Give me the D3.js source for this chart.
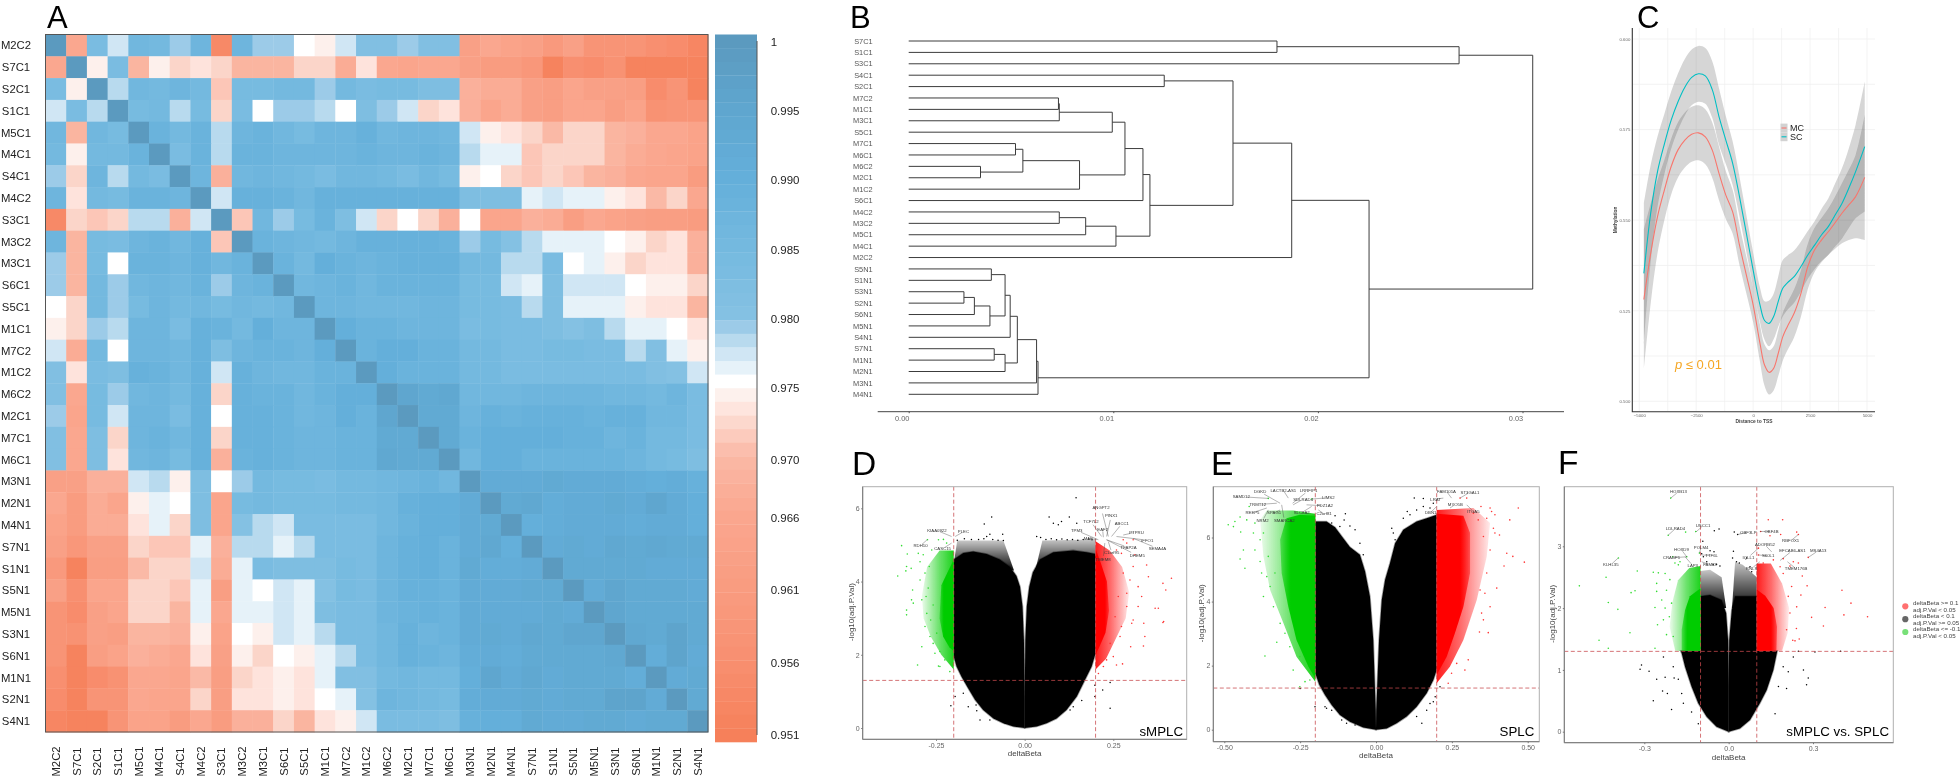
<!DOCTYPE html>
<html><head><meta charset="utf-8">
<script src="https://cdn.jsdelivr.net/npm/d3@7"></script>
<style>html,body{margin:0;padding:0;background:#fff}svg{display:block;font-family:"Liberation Sans",Arial,sans-serif;filter:blur(.35px)}</style>
</head><body><svg id="fig" width="1960" height="778"></svg>
<script>
/* ---------- A: correlation heat map ---------- */
const heatLabels=['M2C2','S7C1','S2C1','S1C1','M5C1','M4C1','S4C1','M4C2','S3C1','M3C2','M3C1','S6C1','S5C1','M1C1','M7C2','M1C2','M6C2','M2C1','M7C1','M6C1','M3N1','M2N1','M4N1','S7N1','S1N1','S5N1','M5N1','S3N1','S6N1','M1N1','S2N1','S4N1'];
/* upper triangle, correlation x 1000 */
const heatUpper=[
[966,983,977,986,985,979,987,954,987,979,979,975,974,977,981,981,979,981,981,963,966,964,963,960,963,958,958,958,956,955,953],
[974,983,969,974,972,973,972,969,969,969,972,972,967,973,966,965,966,966,963,961,961,959,952,956,955,957,952,952,952,952],
[978,986,985,987,985,971,984,984,985,985,979,985,983,984,984,982,982,968,967,967,963,962,965,963,963,962,955,958,952],
[984,985,978,984,972,983,975,979,979,978,975,982,979,977,972,973,968,965,967,963,962,965,965,962,964,957,958,958],
[988,985,988,978,987,988,986,984,987,987,989,986,987,987,986,977,974,973,972,970,972,972,969,968,966,966,964],
[983,988,978,988,988,987,987,987,987,988,987,987,988,987,978,976,976,971,972,972,972,969,967,966,965,964],
[987,968,986,987,986,985,983,986,986,985,983,986,984,974,975,972,971,972,971,969,968,966,965,965,961],
[977,989,989,988,986,989,989,989,989,989,989,989,982,982,982,976,977,976,976,974,973,970,972,966],
[971,986,979,984,988,982,977,972,975,972,968,975,965,965,968,967,962,966,964,963,962,962,961],
[988,987,986,985,987,989,989,989,989,988,979,984,980,978,976,976,976,975,974,972,973,968],
[988,985,990,988,987,988,989,989,989,985,985,978,978,983,975,976,974,972,973,973,968],
[986,987,988,986,988,988,988,988,984,984,977,976,982,977,977,977,975,974,974,972],
[987,987,986,986,986,987,987,984,984,983,978,982,976,976,976,974,973,973,969],
[990,988,988,987,987,987,983,984,983,983,982,980,982,978,976,976,975,973],
[988,990,990,988,988,985,985,983,983,984,984,983,983,978,981,976,974],
[990,988,988,988,985,985,983,983,983,983,983,983,983,981,980,977],
[995,993,994,986,986,986,987,987,987,987,986,986,985,987,983],
[993,993,987,989,988,989,989,989,988,989,989,986,986,983],
[993,988,990,990,990,990,989,989,987,988,985,985,983],
[986,990,990,988,988,988,988,988,987,985,984,982],
[992,992,992,993,992,992,992,991,990,991,989],
[993,994,991,992,992,993,992,995,992,990],
[990,991,992,992,992,991,992,992,990],
[992,993,992,994,993,994,993,993],
[993,993,993,993,992,992,992],
[992,995,993,993,993,992],
[995,993,993,993,993],
[994,993,996,993],
[991,996,992],
[992,993],
[993]];
const colorStops=[1,.995,.99,.985,.98,.979,.978,.977,.976,.975,.974,.973,.972,.971,.97,.966,.961,.956,.951];
const colorRamp=['#5b9abf','#5fa6cf','#64afda','#74b9df','#84c1e3','#9ccbe8','#b8daee','#d0e6f4','#e6f2f9','#ffffff','#fdf0ec','#fee3dc','#fbd5c9','#fcc6b7','#fab9a6','#faa78f','#f99c80','#f88f70','#f6805a'];
const colorbarTicks=[1,.995,.99,.985,.98,.975,.97,.966,.961,.956,.951];
const colorbarTickText=['1','0.995','0.990','0.985','0.980','0.975','0.970','0.966','0.961','0.956','0.951'];

/* ---------- B: dendrogram ---------- */
const dendroTree=[.0305,
 [.0269,[.0180,'S7C1','S1C1'],'S3C1'],
 [.0225,
  [.01872,
   [.01585,
    [.01249,'S4C1','S2C1'],
    [.01179,
     [.01145,
      [.01057,
       [.00995,[.00736,[.00732,'M7C2','M1C1'],'M3C1'],'S5C1'],
       [.00835,[.00558,[.00522,'M7C1','M6C1'],[.00351,'M6C2','M2C1']],'M1C2']],
      'S6C1'],
     [.01013,[.00865,[.00736,'M4C2','M3C2'],'M5C1'],'M4C1']]],
   'M2C2'],
  [.00632,[.00625,[.00531,[.00496,[.00471,[.00404,'S5N1','S1N1'],[.00397,[.00321,[.0027,'S3N1','S2N1'],'S6N1'],'M5N1']],'S4N1'],[.00471,[.00418,'S7N1','M1N1'],'M2N1']],'M3N1'],'M4N1']]];
const dendroTicks=[0,.01,.02,.03];

/* ---------- C: methylation around TSS ---------- */
const tssDistance=[-4800,-4500,-4200,-3900,-3600,-3300,-3000,-2700,-2400,-2100,-1800,-1500,-1200,-900,-600,-300,0,300,500,700,900,1100,1300,1500,1800,2100,2400,2700,3000,3300,3600,3900,4200,4500,4900];
const scMean=[.5353,.5519,.5634,.5710,.5776,.5827,.5867,.5894,.5904,.5898,.5861,.5786,.5721,.5657,.5565,.5464,.5362,.5266,.5223,.5215,.5234,.5275,.5312,.5327,.5344,.5372,.5404,.5431,.5459,.5482,.5514,.5546,.5588,.5634,.5703];
const mcMean=[.5281,.5408,.5510,.5583,.5648,.5694,.5721,.5737,.5741,.5730,.5694,.5629,.5569,.5523,.5431,.5349,.5266,.5160,.5100,.5080,.5091,.5132,.5178,.5206,.5243,.5298,.5372,.5418,.5445,.5468,.5493,.5519,.5542,.5565,.5618];
const scHalfWidth=[.0193,.0133,.0097,.0083,.0079,.0078,.0078,.0077,.0077,.0077,.0078,.0078,.0066,.0060,.0055,.0051,.0048,.0048,.0053,.0063,.0063,.0069,.0078,.0075,.0072,.0069,.0066,.0066,.0072,.0078,.0087,.0097,.0110,.0129,.0179];
const mcHalfWidth=[.0193,.0138,.0101,.0083,.0077,.0076,.0076,.0076,.0076,.0076,.0076,.0074,.0066,.0060,.0055,.0051,.0048,.0051,.0057,.0061,.0061,.0063,.0066,.0066,.0066,.0064,.0063,.0061,.0061,.0064,.0072,.0083,.0097,.0115,.0173];
const tssTicksX=[-5000,-2500,0,2500,5000];
const tssTicksY=[.5,.525,.55,.575,.6];

/* ---------- D: sMPLC ---------- */
const dBlackLobes=[
[[0,0],[-.032,.04],[-.06,.13],[-.088,.26],[-.117,.49],[-.14,.77],[-.159,1.08],[-.178,1.40],[-.192,1.68],[-.2,1.95],[-.2,4.6],[-.173,4.78],[-.145,4.82],[-.107,4.75],[-.07,4.6],[-.041,4.4],[-.023,4.15],[-.013,3.86],[-.006,3.32],[-.002,2.4],[0,.77]],
[[0,.77],[.002,2.4],[.006,3.32],[.013,3.86],[.023,4.25],[.043,4.6],[.081,4.8],[.137,4.85],[.175,4.8],[.2,4.75],[.2,2.04],[.189,1.68],[.17,1.31],[.147,.86],[.118,.49],[.09,.26],[.062,.13],[.034,.04],[0,0]]];
const dBlackHaze=[[[-.2,4.5],[-.19,5.12],[-.06,5.12],[-.03,4.3]],[[.03,4.3],[.05,5.12],[.2,5.15],[.2,4.6]]];
const dGreenHaze=[[-.2,4.85],[-.24,4.85],[-.275,4.4],[-.29,3.6],[-.285,3],[-.265,2.5],[-.235,2.0],[-.2,1.6]];
const dGreenCore=[[-.2,4.6],[-.215,4.3],[-.235,3.9],[-.24,3.0],[-.23,2.5],[-.212,2.2],[-.2,2.1]];
const dRedHaze=[[.2,5.1],[.24,4.85],[.275,4.4],[.295,3.7],[.285,3.0],[.26,2.5],[.23,1.9],[.2,1.6]];
const dRedCore=[[.2,4.9],[.215,4.5],[.232,4],[.238,3.2],[.228,2.6],[.21,2.2],[.2,2.0]];
const dGreenPts=[[-.358,4.15],[-.347,4.98],[-.331,4.75],[-.333,4.41],[-.335,4.29],[-.32,4.36],[-.316,3.77],[-.319,3.5],[-.333,3.22],[-.333,3.09],[-.314,3.41],[-.302,1.72],[-.29,2.22],[-.3,4.77],[-.295,4.54],[-.286,4.73],[-.281,4.23],[-.295,4.04],[-.274,5.14],[-.272,3.82],[-.29,3.5],[-.276,3.13],[-.281,2.77],[-.267,2.5],[-.258,2.31],[-.243,1.69],[-.239,1.68],[-.253,2.04],[-.262,4.86],[-.243,5.14],[-.229,5.15],[-.22,5.05],[-.211,1.54],[-.269,4.41],[-.278,3.59],[-.265,2.95],[-.258,3.36],[-.248,2.59],[-.239,2.09],[-.225,1.86]];
const dRedPts=[[.414,4.09],[.39,3.95],[.398,3.77],[.392,2.91],[.39,2.88],[.377,3.27],[.368,3.27],[.349,4.13],[.344,4.45],[.336,2.86],[.339,2.5],[.335,2.24],[.32,3.32],[.33,3.59],[.32,3.86],[.306,4.41],[.311,4.73],[.306,2.95],[.302,2.86],[.299,2.22],[.276,1.75],[.259,1.72],[.288,3.68],[.297,4.04],[.278,5.14],[.306,5.14],[.288,5.05],[.278,4.23],[.288,3.32],[.273,2.77],[.269,2.5],[.25,1.95],[.231,1.86],[.222,1.68],[.208,1.49],[.264,3.59],[.255,3.04],[.241,2.31],[.273,4.77],[.259,4.86]];
const dBlackPts=[[.145,6.29],[-.093,5.76],[-.114,5.57],[.069,5.76],[.081,5.59],[.104,5.64],[.126,5.76],[.147,5.59],[.095,5.55],[-.062,5.29],[-.098,5.29],[-.107,5.23],[.034,5.23],[-.19,5.13],[-.17,5.17],[-.15,5.15],[-.13,5.15],[-.115,5.17],[-.09,5.15],[-.075,5.13],[-.06,5.12],[.045,5.2],[.06,5.15],[.075,5.17],[.09,5.14],[.105,5.16],[.12,5.14],[.135,5.15],[.15,5.13],[.165,5.15],[.18,5.16],[.19,5.14],[-.208,.61],[-.196,.86],[-.159,.58],[-.137,.63],[-.135,.47],[-.126,.22],[-.098,.22],[.128,.49],[.137,.58],[.161,.75],[.22,1.04],[.241,1.24],[.241,.54],[.198,.86],[.198,1.17],[.137,.95],[-.173,.95],[-.168,1.27]];
const dGenes=[['KIAA0922',-.206,5.23,-14.7,-6],['PLEC',-.196,5.23,8.3,-4.7],['RDH10',-.274,5.15,-7,6.3],['CASC15',-.206,5.05,-9,5.7],['ANGPT2',.236,5.23,-7.3,-28.7],['PINX1',.231,5.23,4.7,-20.7],['ABCC1',.245,5.23,10.3,-12.7],['TCF7L2',.217,5.23,-10.7,-14.7],['EAF2',.222,5.21,-.7,-7.3],['TPM3',.208,5.14,-21.7,-9.3],['PTPRU',.278,5.27,13.3,-3],['IFFO1',.259,5.23,30.7,3.7],['SEMA4A',.306,5.18,24.3,10],['TFAP2A',.231,5.14,22,7.7],['DHEM5',.231,5.14,30.7,15.7],['C1orf95',.236,5.09,3.3,10.7],['TMEM8',.226,5.05,-1.7,16],['MAF',.203,5.15,-8.3,-.7]];

/* ---------- E: SPLC ---------- */
const eBlackLobes=[
[[0,0],[-.042,.07],[-.086,.25],[-.119,.46],[-.146,.77],[-.168,1.08],[-.187,1.4],[-.2,1.76],[-.2,6.5],[-.163,6.5],[-.135,6.32],[-.108,5.98],[-.086,5.7],[-.053,5.46],[-.036,4.94],[-.02,4.16],[-.009,2.8],[-.001,.61]],
[[.001,.61],[.01,2.8],[.019,4.05],[.03,4.68],[.046,5.2],[.063,5.82],[.09,6.24],[.134,6.5],[.167,6.6],[.2,6.71],[.2,1.86],[.189,1.55],[.167,1.14],[.134,.72],[.101,.41],[.068,.2],[.035,.04],[0,0]]];
const eBlackHaze=[];
const eGreenHaze=[[-.2,6.74],[-.273,6.84],[-.36,6.84],[-.382,6.55],[-.371,5.41],[-.349,4.36],[-.305,3.32],[-.262,2.28],[-.2,1.5]];
const eGreenCore=[[-.2,6.68],[-.251,6.71],[-.295,6.6],[-.316,5.93],[-.311,4.89],[-.289,3.84],[-.262,2.8],[-.223,1.97],[-.2,1.6]];
const eRedHaze=[[.2,6.86],[.321,6.92],[.376,6.45],[.365,5.41],[.332,4.05],[.288,2.8],[.244,1.97],[.2,1.45]];
const eRedCore=[[.2,6.74],[.288,6.68],[.31,6.14],[.31,4.89],[.288,3.84],[.26,3.01],[.233,2.28],[.2,1.71]];
const eGreenPts=[[-.366,2.3],[-.327,2.73],[-.432,5.04],[-.448,5.33],[-.437,5.61],[-.446,6.17],[-.47,6.34],[-.487,6.4],[-.465,6.5],[-.448,6.64],[-.418,6.97],[-.355,7.22],[-.399,5.61],[-.382,5.25],[-.371,4.16],[-.377,4.89],[-.349,4.47],[-.36,4.78],[-.426,6.55],[-.399,6.45],[-.404,6.14],[-.382,5.93],[-.371,6.14],[-.355,5.41],[-.333,4.89],[-.338,3.84],[-.316,3.32],[-.3,3.01],[-.273,1.86],[-.251,1.34],[-.234,1.5],[-.218,1.55],[-.251,2.28],[-.284,2.59],[-.212,7.2]];
const eRedPts=[[.469,6.92],[.441,6.55],[.346,6.97],[.376,6.92],[.381,6.81],[.392,6.71],[.392,6.14],[.407,6.08],[.387,6.29],[.431,5.51],[.451,5.41],[.489,5.23],[.422,5.11],[.398,4.42],[.37,3.03],[.341,3.05],[.354,3.43],[.376,3.84],[.359,4.26],[.348,3.64],[.299,7.23],[.277,7.23],[.376,5.61],[.365,4.89],[.343,4.36],[.304,2.18],[.293,1.86],[.238,1.45],[.266,2.07],[.249,1.76],[.354,6.03],[.337,6.55],[.321,6.76],[.365,6.6]];
const eBlackPts=[[.126,7.23],[.156,7.22],[.103,6.81],[.134,6.86],[.156,6.97],[.178,6.92],[.189,7.07],[.112,6.71],[.09,6.6],[.052,6.29],[.057,6.14],[.063,5.93],[-.101,6.74],[-.105,6.55],[-.135,6.68],[-.146,6.45],[-.119,6.34],[-.069,6.24],[-.086,6.36],[-.053,5.82],[-.042,5.46],[-.25,1.29],[-.201,.72],[-.168,.72],[-.163,.67],[-.146,.61],[-.113,.3],[-.097,.2],[-.069,.15],[.09,.77],[.167,.61],[.189,.87],[.134,.41],[.151,.2],[.195,1.03],[.211,1.34],[.178,.82]];
const eGenes=[['SAMD12',-.355,7.22,-27,-1.7],['DGKD',-.316,7.07,-20,-11.3],['LACTB2-AS1',-.289,7.23,-5,-7.7],['LRRFIP1',-.275,7.07,16,-12.7],['SDLRAD4',-.273,7.02,10,-5.7],['LIMS2',-.212,7.2,16.7,-1.3],['TRMT12',-.327,7.07,-19,1.3],['PDZ1A2',-.229,7.02,18.3,1],['REEP5',-.36,6.92,-14.3,4.7],['SPAG1',-.316,6.86,-6,3],['SLC8A2',-.212,6.97,-10,6.3],['NRM2',-.355,6.86,-5.7,10.7],['SMARCA2',-.311,7.02,2.7,16],['C2orf81',-.19,6.86,5.7,4],['FAM101A',.249,7.23,-5,-6.7],['ST3GAL1',.277,7.23,10,-6],['LRAT',.222,7.23,-7.7,1],['MYO5B',.244,6.92,5.3,-3.7],['ITGA5',.299,7.02,6.7,6.7],['DBN1',.2,6.97,-6,6]];

/* ---------- F: sMPLC vs. SPLC ---------- */
const fBlackLobes=[
[[0,0],[-.043,.08],[-.078,.24],[-.108,.46],[-.132,.73],[-.155,1.05],[-.167,1.27],[-.171,1.31],[-.1,1.31],[-.1,2.19],[-.066,2.21],[-.025,2.13],[-.009,1.92],[-.002,1.48],[0,.73]],
[[0,.73],[.002,1.48],[.011,1.97],[.023,2.19],[.052,2.19],[.1,2.19],[.1,1.31],[.173,1.31],[.159,1.0],[.135,.67],[.111,.46],[.076,.19],[.04,.05],[0,0]]];
const fBlackHaze=[[[-.1,2.0],[-.1,2.6],[-.066,2.62],[-.025,2.5],[-.009,2.0]],[[.012,2.0],[.023,2.75],[.05,2.7],[.1,2.5],[.1,2.0]]];
const fGreenHaze=[[-.1,2.68],[-.14,2.65],[-.18,2.45],[-.2,2.1],[-.21,1.7],[-.19,1.31],[-.1,1.31]];
const fGreenCore=[[-.1,1.31],[-.1,2.32],[-.138,2.19],[-.155,1.97],[-.167,1.65],[-.167,1.31]];
const fRedHaze=[[.1,2.72],[.15,2.72],[.19,2.4],[.215,2.0],[.21,1.6],[.19,1.31],[.1,1.31]];
const fRedCore=[[.1,2.3],[.13,2.2],[.16,2.0],[.172,1.7],[.17,1.31],[.1,1.31]];
const fGreenPts=[[-.531,2.36],[-.461,1.48],[-.428,1.35],[-.436,2.5],[-.428,2.09],[-.394,1.98],[-.392,2.81],[-.351,1.6],[-.347,2.25],[-.333,2.28],[-.325,2.6],[-.268,2.58],[-.25,2.57],[-.262,1.35],[-.262,2.01],[-.256,2.27],[-.253,1.73],[-.256,2.4],[-.238,2.13],[-.232,1.81],[-.221,1.57],[-.215,3.18],[-.206,3.78],[-.199,2.83],[-.153,3.23],[-.191,2.73],[-.179,2.7],[-.226,2.56],[-.209,2.46],[-.221,2.29],[-.203,2.08],[-.211,1.86],[-.197,1.54],[-.226,2.0],[-.173,2.75],[-.149,2.83],[-.104,2.89],[-.117,3.24]];
const fRedPts=[[.141,3.43],[.192,3.43],[.114,3.24],[.185,3.19],[.147,3.17],[.242,3.23],[.248,3.19],[.283,2.82],[.194,2.8],[.23,2.75],[.248,2.73],[.218,2.68],[.262,2.52],[.279,2.36],[.257,2.21],[.403,2.29],[.435,2.08],[.343,2.01],[.41,1.89],[.494,1.86],[.295,1.85],[.337,1.71],[.241,1.67],[.251,1.5],[.228,1.48],[.236,1.47],[.242,2.02],[.224,2.35],[.212,2.19],[.194,2.56],[.183,2.67],[.218,1.92],[.206,1.65],[.159,2.78],[.123,2.73],[.106,2.86],[.106,2.97]];
const fBlackPts=[[-.034,3.28],[-.051,3.25],[.02,3.23],[.032,3.19],[.017,2.92],[-.092,3.08],[-.066,2.93],[-.052,2.91],[-.096,2.88],[-.09,2.83],[-.078,2.75],[-.055,2.7],[-.043,2.71],[-.031,2.68],[.028,2.75],[.038,2.73],[.064,2.81],[.076,2.67],[.082,2.59],[.014,2.81],[-.268,.5],[-.235,.66],[-.218,.62],[-.203,.36],[-.31,1.08],[-.315,1.01],[-.283,.98],[-.256,.85],[-.226,.88],[-.194,.87],[-.179,.85],[-.232,1.21],[-.197,1.05],[-.167,.62],[-.161,.46],[-.132,.32],[-.108,.13],[.206,.7],[.266,1.0],[.283,.87],[.277,.76],[.212,.97],[.165,.29],[.177,.73],[.194,1.05],[.248,1.3],[.307,1.29],[.398,1.3],[.23,1.21]];
const fGenes=[['HOXB13',-.206,3.78,7.7,-6.3],['LDLRAD4',-.215,3.18,7.3,-6.7],['USCC1',-.117,3.23,7.3,-6.3],['OBF3LP',.031,3.19,11,-2.3],['OBF4B',.111,3.24,11.7,0],['RBFOX1',.248,3.19,-7.7,6.3],['HOXD9',-.149,2.83,-5.3,-7],['POLM4',-.104,2.89,1.7,-5.7],['ADORB52',.153,2.91,-6.7,-7],['EFCAB6-AS1',.183,2.77,12.3,-10],['MS4A13',.283,2.82,10,-6.7],['TTF6L',-.096,2.86,10,.7],['CRABP1',-.149,2.83,-15.3,1],['IQLL1',.106,2.97,-10,9],['S60L1',.106,2.86,9.7,1],['KLHL35',-.393,2.81,-7.3,6.7],['LAP3',-.155,2.83,7.7,8.7],['TMEM176B',.209,2.75,8.7,7],['RNLS',.111,2.75,-8.3,6.7],['FAM83',-.096,2.75,8.3,3]];
const legendColors=['#ff7070','#666666','#78e078'];
const legendLines=[['deltaBeta >= 0.1','adj.P.Val < 0.05'],['deltaBeta < 0.1','adj.P.Val >= 0.05'],['deltaBeta <= -0.1','adj.P.Val < 0.05']];

/* ---------- drawing ---------- */
const svg=d3.select('#fig');
const defs=svg.append('defs');

/* fading fill for the regions where the points thin out */
function fade(id,c,x1,y1,x2,y2,stops){
  const g=defs.append('linearGradient').attr('id',id).attr('gradientUnits','userSpaceOnUse')
    .attr('x1',x1).attr('y1',y1).attr('x2',x2).attr('y2',y2);
  stops.forEach(([o,a])=>g.append('stop').attr('offset',o).attr('stop-color',c).attr('stop-opacity',a));
  return `url(#${id})`;
}

/* panel letters */
[['A',47,28.1],['B',850,28.1],['C',1637,28.1],['D',852,475],['E',1211,475],['F',1558,474]].forEach(([t,x,y])=>
  svg.append('text').attr('x',x).attr('y',y).attr('font-size',y<100?31:33.5).attr('fill','#000').text(t));

/* A */
(function(){
  const n=heatLabels.length;
  const x=d3.scaleBand().domain(d3.range(n)).range([45.5,708]);
  const y=d3.scaleBand().domain(d3.range(n)).range([34.5,732]);
  const ramp=d3.scaleLinear().domain(colorStops).range(colorRamp).clamp(true);
  const cells=[];
  for(let i=0;i<n;i++){ cells.push({r:i,c:i,v:1000});
    heatUpper[i]&&heatUpper[i].forEach((v,k)=>{const j=i+1+k;cells.push({r:i,c:j,v},{r:j,c:i,v});}); }
  const g=svg.append('g');
  g.selectAll('rect').data(cells).join('rect')
    .attr('x',d=>x(d.c)).attr('y',d=>y(d.r)).attr('width',x.bandwidth()+.4).attr('height',y.bandwidth()+.4)
    .attr('fill',d=>ramp(d.v/1000));
  g.append('rect').attr('x',45.5).attr('y',34.5).attr('width',662.5).attr('height',697.5).attr('fill','none').attr('stroke','#555').attr('stroke-width',1);
  svg.append('g').selectAll('text').data(heatLabels).join('text')
    .attr('x',16).attr('y',(d,i)=>y(i)+y.bandwidth()/2+4).attr('text-anchor','middle').attr('font-size',11.3).attr('fill','#222').text(d=>d);
  svg.append('g').selectAll('text').data(heatLabels).join('text')
    .attr('transform',(d,i)=>`translate(${x(i)+x.bandwidth()/2+4},761.5) rotate(-90)`).attr('text-anchor','middle').attr('font-size',11.3).attr('fill','#222').text(d=>d);
  /* colour bar */
  const bandV=d3.range(52).map(i=>i<=25?1-.001*i:.975-(.024/26)*(i-25));
  const by=d3.scaleBand().domain(d3.range(52)).range([34.5,742]);
  svg.append('g').selectAll('rect').data(bandV).join('rect')
    .attr('x',715).attr('y',(d,i)=>by(i)).attr('width',42).attr('height',by.bandwidth()+.3).attr('fill',d=>ramp(d));
  svg.append('line').attr('x1',757).attr('x2',757).attr('y1',41).attr('y2',735).attr('stroke','#555');
  defs.append('clipPath').attr('id','cbclip').append('rect').attr('x',760).attr('y',20).attr('width',39).attr('height',740);
  const ty=d3.scaleLinear().domain([.951,.975,1]).range([735,388,42]);
  svg.append('g').attr('clip-path','url(#cbclip)').selectAll('text').data(colorbarTicks).join('text')
    .attr('x',770.7).attr('y',d=>ty(d)+4).attr('font-size',11.5).attr('fill','#222').text((d,i)=>colorbarTickText[i]);
})();

/* B */
(function(){
  const root=d3.hierarchy(dendroTree,d=>Array.isArray(d)?d.slice(1):null);
  const leaves=root.leaves();
  const x=d3.scaleLinear().domain([0,.03]).range([908.7,1522.5]);
  const y=d3.scalePoint().domain(leaves.map(d=>d.data)).range([41,394.3]);
  root.eachAfter(n=>{
    if(n.children){n.h=n.data[0];n.py=(n.children[0].py+n.children[1].py)/2;}
    else{n.h=0;n.py=y(n.data);}
  });
  const p=d3.path();
  root.each(n=>{ if(n.children){
    const [a,b]=n.children;
    p.moveTo(x(a.h),a.py);p.lineTo(x(n.h),a.py);p.lineTo(x(n.h),b.py);p.lineTo(x(b.h),b.py);
  }});
  svg.append('path').attr('d',p.toString()).attr('fill','none').attr('stroke','#3c3c3c').attr('stroke-width',1);
  svg.append('g').selectAll('text').data(leaves).join('text')
    .attr('x',872.7).attr('y',d=>d.py+2.6).attr('text-anchor','end').attr('font-size',7.4).attr('fill','#555').text(d=>d.data);
  const ax=svg.append('g').attr('transform','translate(0,411.7)').call(d3.axisBottom(x).tickValues(dendroTicks).tickFormat(d3.format('.2f')).tickSize(1.5));
  ax.select('.domain').remove();
  ax.selectAll('line').attr('stroke','#555');
  ax.selectAll('text').attr('x',-7).attr('y',4.5).attr('font-size',7.4).attr('font-family','inherit').attr('fill','#666');
  svg.append('line').attr('x1',877.7).attr('x2',1564).attr('y1',411.7).attr('y2',411.7).attr('stroke','#444');
})();

/* C */
(function(){
  const x=d3.scaleLinear().domain([-5000,5000]).range([1639.3,1867]);
  const y=d3.scaleLinear().domain([.5,.6]).range([401.3,39]);
  const gg=svg.append('g').attr('stroke','#f0f0f0').attr('stroke-width',.8);
  d3.range(-5000,5001,1250).forEach(v=>gg.append('line').attr('x1',x(v)).attr('x2',x(v)).attr('y1',28).attr('y2',411));
  d3.range(.5,.6001,.0125).forEach(v=>gg.append('line').attr('x1',1633).attr('x2',1875).attr('y1',y(v)).attr('y2',y(v)));
  const idx=d3.range(tssDistance.length);
  const crv=d3.curveCatmullRom.alpha(.5);
  const band=(m,h)=>d3.area().x(i=>x(tssDistance[i])).y0(i=>y(m[i]-h[i])).y1(i=>y(m[i]+h[i])).curve(crv)(idx);
  const line=m=>d3.line().x(i=>x(tssDistance[i])).y(i=>y(m[i])).curve(crv)(idx);
  svg.append('path').attr('d',band(mcMean,mcHalfWidth)).attr('fill','#333').attr('fill-opacity',.2);
  svg.append('path').attr('d',band(scMean,scHalfWidth)).attr('fill','#333').attr('fill-opacity',.2);
  svg.append('path').attr('d',line(mcMean)).attr('fill','none').attr('stroke','#F8766D').attr('stroke-width',1.1);
  svg.append('path').attr('d',line(scMean)).attr('fill','none').attr('stroke','#00BFC4').attr('stroke-width',1.1);
  const ax=svg.append('g').attr('transform','translate(0,411.7)').call(d3.axisBottom(x).tickValues(tssTicksX).tickFormat(d=>d<0?'\u2212'+(-d):d).tickSize(0));
  ax.select('.domain').remove();
  ax.selectAll('text').attr('y',2.5).attr('font-size',4.3).attr('font-family','inherit').attr('fill','#666');
  const ay=svg.append('g').attr('transform','translate(1632.3,0)').call(d3.axisLeft(y).tickValues(tssTicksY).tickFormat(d3.format('.3f')).tickSize(0));
  ay.select('.domain').remove();
  ay.selectAll('text').attr('x',-2).attr('font-size',4.3).attr('font-family','inherit').attr('fill','#666');
  svg.append('path').attr('d','M1632.3,28V411.7H1875').attr('fill','none').attr('stroke','#333').attr('stroke-width',1.1);
  svg.append('text').attr('x',1754).attr('y',423).attr('text-anchor','middle').attr('font-size',4.9).attr('font-weight','bold').attr('fill','#444').text('Distance to TSS');
  svg.append('text').attr('transform','translate(1616.8,220) rotate(-90)').attr('text-anchor','middle').attr('font-size',4.8).attr('font-weight','bold').attr('fill','#444').text('Methylation');
  [['MC','#F8766D',128],['SC','#00BFC4',136.8]].forEach(([t,c,cy])=>{
    svg.append('rect').attr('x',1780.5).attr('y',cy-4.4).attr('width',7).attr('height',8.8).attr('fill','#d2d2d2');
    svg.append('line').attr('x1',1781.5).attr('x2',1786.5).attr('y1',cy).attr('y2',cy).attr('stroke',c).attr('stroke-width',1.1);
    svg.append('text').attr('x',1790).attr('y',cy+3.2).attr('font-size',9).attr('fill','#222').text(t);
  });
  const pt=svg.append('text').attr('x',1675).attr('y',369).attr('font-size',13).attr('fill','#f5a623');
  pt.append('tspan').attr('font-style','italic').text('p');
  pt.append('tspan').text(' \u2264 0.01');
})();

/* D, E, F volcanoes */
function volcano(o){
  const x=d3.scaleLinear().domain(o.xd).range(o.xr);
  const y=d3.scaleLinear().domain(o.yd).range(o.yr);
  const [L,R,T,B]=o.frame;
  const cid='clip'+o.tag;
  defs.append('clipPath').attr('id',cid).append('rect').attr('x',L).attr('y',T).attr('width',R-L).attr('height',B-T);
  const g=svg.append('g').attr('clip-path',`url(#${cid})`);
  const poly=d3.line().x(d=>x(d[0])).y(d=>y(d[1])).curve(d3.curveLinearClosed);
  const stops=[[0,.95],[.45,.62],[.8,.28],[1,.08]];
  const hazeFill=(pts,i)=>{
    const ys=pts.map(p=>p[1]);
    return fade(`${o.tag}k${i}`,'#000',0,y(d3.min(ys)),0,y(d3.max(ys)),[[0,.95],[.5,.6],[1,.22]]);
  };
  g.selectAll('path.h').data(o.blackHaze).join('path').attr('class','h').attr('d',poly).attr('fill',hazeFill);
  g.selectAll('path.b').data(o.black).join('path').attr('class','b').attr('d',poly).attr('fill','#000').attr('stroke','#000').attr('stroke-opacity',.35).attr('stroke-width',1.6);
  const dots=(pts,c,r)=>g.append('g').selectAll('circle').data(pts).join('circle').attr('cx',d=>x(d[0])).attr('cy',d=>y(d[1])).attr('r',r).attr('fill',c);
  dots(o.blackPts,'#000',.75);
  const gEdge=x(o.vlines[0]), rEdge=x(o.vlines[1]);
  const gOut=x(d3.min(o.greenHaze,d=>d[0])), rOut=x(d3.max(o.redHaze,d=>d[0]));
  g.append('path').attr('d',poly(o.greenHaze)).attr('fill',fade(o.tag+'g','#10d010',gEdge,0,gOut,0,stops));
  g.append('path').attr('d',poly(o.greenCore)).attr('fill',fade(o.tag+'gc','#00cc00',gEdge,0,x(d3.min(o.greenCore,d=>d[0])),0,[[0,1],[.7,1],[1,.45]]));
  g.append('path').attr('d',poly(o.redHaze)).attr('fill',fade(o.tag+'r','#ff1010',rEdge,0,rOut,0,stops));
  g.append('path').attr('d',poly(o.redCore)).attr('fill',fade(o.tag+'rc','#ff0000',rEdge,0,x(d3.max(o.redCore,d=>d[0])),0,[[0,1],[.7,1],[1,.45]]));
  dots(o.greenPts,'#33dd33',.8);
  dots(o.redPts,'#ff3333',.8);
  const dash=g.append('g').attr('stroke','#c8484c').attr('stroke-width',.9).attr('stroke-dasharray','4,2.5').attr('stroke-opacity',.85);
  o.vlines.forEach(v=>dash.append('line').attr('x1',x(v)).attr('x2',x(v)).attr('y1',T).attr('y2',B));
  dash.append('line').attr('x1',L).attr('x2',R).attr('y1',y(1.3)).attr('y2',y(1.3));
  /* gene labels */
  const lg=svg.append('g');
  lg.selectAll('line').data(o.genes).join('line')
    .attr('x1',d=>x(d[1])).attr('y1',d=>y(d[2])).attr('x2',d=>x(d[1])+d[3]*.8).attr('y2',d=>y(d[2])+d[4]*.8)
    .attr('stroke','#444').attr('stroke-width',.4);
  lg.selectAll('text').data(o.genes).join('text')
    .attr('x',d=>x(d[1])+d[3]).attr('y',d=>y(d[2])+d[4]+1.5).attr('text-anchor','middle').attr('font-size',4.3).attr('fill','#333').text(d=>d[0]);
  /* frame */
  svg.append('rect').attr('x',L).attr('y',T).attr('width',R-L).attr('height',B-T).attr('fill','none').attr('stroke','#b0b0b0').attr('stroke-width',1);
  svg.append('path').attr('d',`M${L},${T}V${B}H${R}`).attr('fill','none').attr('stroke','#777').attr('stroke-width',1);
  /* axes */
  const fx=d3.format(o.xf);
  const ax=svg.append('g').attr('transform',`translate(0,${B})`).call(d3.axisBottom(x).tickValues(o.xt).tickFormat(d=>fx(d).replace('\u2212','-')).tickSize(1.5));
  ax.select('.domain').remove(); ax.selectAll('line').attr('stroke','#777');
  ax.selectAll('text').attr('y',o.tickDy).attr('font-size',7).attr('font-family','inherit').attr('fill','#666');
  const ay=svg.append('g').attr('transform',`translate(${L},0)`).call(d3.axisLeft(y).tickValues(o.yt).tickFormat(d3.format('d')).tickSize(1.5));
  ay.select('.domain').remove(); ay.selectAll('line').attr('stroke','#777');
  ay.selectAll('text').attr('x',-3).attr('font-size',7).attr('font-family','inherit').attr('fill','#666');
  svg.append('text').attr('x',x(0)).attr('y',o.xtitleY).attr('text-anchor','middle').attr('font-size',8).attr('fill','#444').text('deltaBeta');
  svg.append('text').attr('transform',`translate(${o.ytitleX},${(T+B)/2-1}) rotate(-90)`).attr('text-anchor','middle').attr('font-size',8).attr('fill','#444').text('-log10(adj.P.Val)');
  svg.append('text').attr('x',o.nameR).attr('y',736).attr('text-anchor','end').attr('font-size',13.3).attr('fill','#000').text(o.name);
}
volcano({tag:'D',name:'sMPLC',nameR:1183,frame:[862.7,1186.7,486.7,739.3],xd:[-.25,.25],xr:[936,1113.3],yd:[0,6],yr:[728,508.3],
  vlines:[-.2,.2],xt:[-.25,0,.25],xf:'.2f',yt:[0,2,4,6],tickDy:3.5,xtitleY:755.5,ytitleX:853.5,
  black:dBlackLobes,blackHaze:dBlackHaze,greenHaze:dGreenHaze,greenCore:dGreenCore,redHaze:dRedHaze,redCore:dRedCore,greenPts:dGreenPts,redPts:dRedPts,blackPts:dBlackPts,genes:dGenes});
volcano({tag:'E',name:'SPLC',nameR:1534.3,frame:[1213.3,1539.3,486.7,741.7],xd:[-.5,.5],xr:[1224.3,1527.7],yd:[0,6],yr:[729.7,537.5],
  vlines:[-.2,.2],xt:[-.5,-.25,0,.25,.5],xf:'.2f',yt:[0,2,4,6],tickDy:3,xtitleY:758,ytitleX:1204,
  black:eBlackLobes,blackHaze:eBlackHaze,greenHaze:eGreenHaze,greenCore:eGreenCore,redHaze:eRedHaze,redCore:eRedCore,greenPts:eGreenPts,redPts:eRedPts,blackPts:eBlackPts,genes:eGenes});
volcano({tag:'F',name:'sMPLC vs. SPLC',nameR:1889,frame:[1564.3,1893.3,486.7,742.7],xd:[-.3,.3],xr:[1644.3,1813],yd:[0,3],yr:[731.7,546.3],
  vlines:[-.1,.1],xt:[-.3,0,.3],xf:'.1f',yt:[0,1,2,3],tickDy:3,xtitleY:759.5,ytitleX:1555,
  black:fBlackLobes,blackHaze:fBlackHaze,greenHaze:fGreenHaze,greenCore:fGreenCore,redHaze:fRedHaze,redCore:fRedCore,greenPts:fGreenPts,redPts:fRedPts,blackPts:fBlackPts,genes:fGenes});

/* F legend */
const lg=svg.append('g');
legendColors.forEach((c,i)=>{
  const cy=606.3+i*12.85;
  lg.append('circle').attr('cx',1905.3).attr('cy',cy).attr('r',3.1).attr('fill',c);
  legendLines[i].forEach((t,k)=>lg.append('text').attr('x',1913).attr('y',cy-1+k*6.6).attr('font-size',6.2).attr('fill','#444').text(t));
});
</script></body></html>
